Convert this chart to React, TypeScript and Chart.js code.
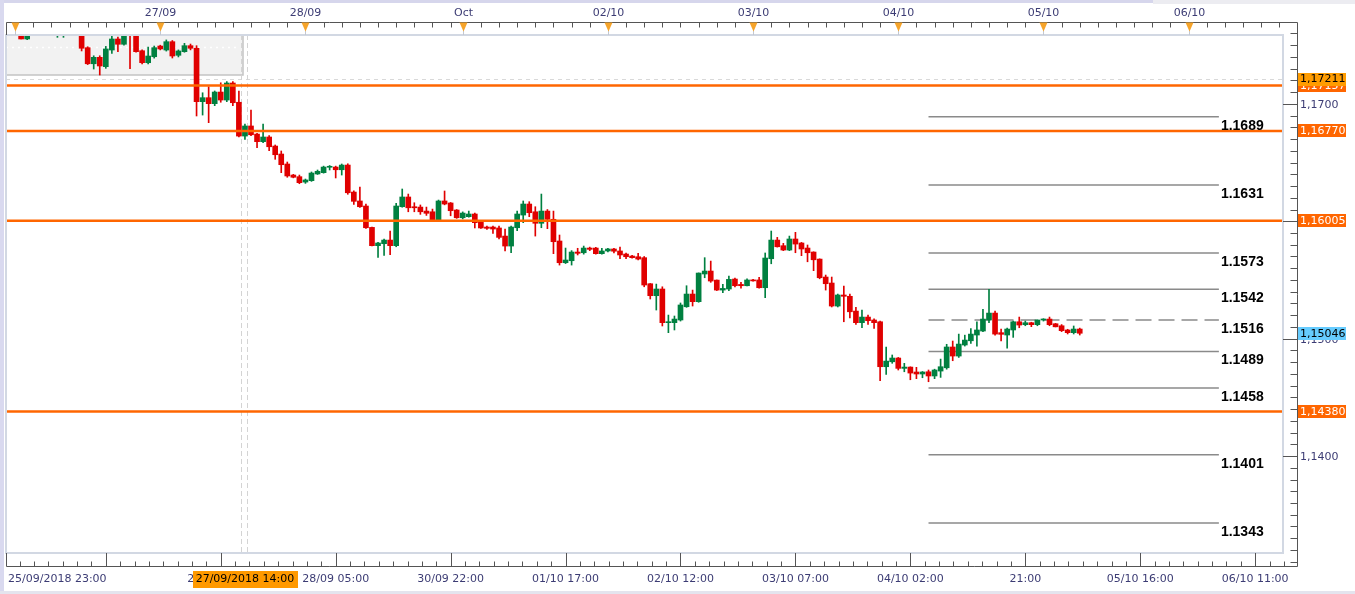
import React, { useEffect, useRef } from 'react';
import { Chart, registerables } from 'chart.js';

Chart.register(...registerables);

// ---- Candle data (EUR/USD, H1), index 0 = 25/09/2018 23:00 ----
const opens = [
  1.1768, 1.1770, 1.1766, 1.17553, 1.1766, 1.1768, 1.1765, 1.1763, 1.17583, 1.17585,
  1.1765, 1.1767, 1.1766, 1.17479, 1.17342, 1.17397, 1.17317, 1.17459, 1.17553, 1.17508,
  1.1762, 1.1760, 1.17453, 1.17351, 1.17402, 1.17493, 1.17459, 1.1753, 1.17414, 1.17445,
  1.17496, 1.17474, 1.17019, 1.17053, 1.17002, 1.17101, 1.17033, 1.17178, 1.17014, 1.16726,
  1.16812, 1.16743, 1.16678, 1.16718, 1.16641, 1.16573, 1.16488, 1.16394, 1.1638, 1.16334,
  1.16346, 1.16403, 1.16414, 1.1646, 1.16462, 1.16439, 1.16479, 1.16249, 1.16173, 1.1613,
  1.15948, 1.15792, 1.15809, 1.1584, 1.15792, 1.16124, 1.16207, 1.16124, 1.16121, 1.16087,
  1.16081, 1.16011, 1.16173, 1.16156, 1.16096, 1.1603, 1.16039, 1.16062, 1.15996, 1.15951,
  1.15951, 1.15943, 1.15874, 1.15789, 1.15945, 1.16053, 1.16147, 1.16081, 1.15983, 1.16087,
  1.16017, 1.15832, 1.15647, 1.15664, 1.15738, 1.15732, 1.15772, 1.15772, 1.15724, 1.15747,
  1.15764, 1.15747, 1.15721, 1.15704, 1.15698, 1.1569, 1.15468, 1.15366, 1.15423, 1.15136,
  1.15136, 1.15159, 1.15272, 1.1538, 1.15315, 1.15551, 1.15576, 1.15499, 1.15414, 1.15423,
  1.15508, 1.15462, 1.15451, 1.155, 1.155, 1.15434, 1.15681, 1.1584, 1.15792, 1.15755,
  1.15849, 1.15815, 1.15772, 1.15738, 1.15678, 1.15525, 1.15474, 1.15278, 1.15372, 1.15361,
  1.15235, 1.15136, 1.15184, 1.15159, 1.15144, 1.14761, 1.14803, 1.14835, 1.14747, 1.14758,
  1.14716, 1.14699, 1.14718, 1.14682, 1.14724, 1.14752, 1.14929, 1.14852, 1.14946, 1.14982,
  1.15031, 1.15065, 1.15159, 1.15218, 1.15051, 1.15031, 1.15074, 1.15144, 1.15119, 1.15136,
  1.15119, 1.15159, 1.15167, 1.15127, 1.1511, 1.15074, 1.15051, 1.15082,
];
const highs = [
  1.1775, 1.1776, 1.1770, 1.1770, 1.1772, 1.1774, 1.1770, 1.1768, 1.1768, 1.1769,
  1.1770, 1.1772, 1.1768, 1.17487, 1.1741, 1.1741, 1.1749, 1.17581, 1.1757, 1.1762,
  1.1768, 1.1763, 1.1746, 1.17485, 1.17493, 1.1750, 1.17545, 1.1754, 1.1746, 1.17516,
  1.1751, 1.17496, 1.17095, 1.17146, 1.1711, 1.1718, 1.1719, 1.1719, 1.1711, 1.16829,
  1.16948, 1.1675, 1.16829, 1.1673, 1.1665, 1.16599, 1.16505, 1.164, 1.16394, 1.1636,
  1.1642, 1.16437, 1.1647, 1.16475, 1.1647, 1.16488, 1.1649, 1.1626, 1.16292, 1.16147,
  1.1595, 1.1582, 1.15849, 1.15917, 1.16153, 1.16275, 1.16232, 1.16158, 1.16139, 1.16121,
  1.16104, 1.16181, 1.16258, 1.1616, 1.161, 1.1608, 1.16087, 1.1607, 1.16, 1.1596,
  1.1596, 1.1596, 1.15934, 1.1596, 1.16087, 1.16173, 1.16167, 1.16124, 1.16232, 1.161,
  1.16087, 1.15883, 1.15772, 1.1575, 1.1577, 1.15789, 1.1578, 1.15778, 1.1577, 1.1577,
  1.1577, 1.15781, 1.1573, 1.1571, 1.15727, 1.157, 1.1547, 1.15465, 1.15442, 1.15201,
  1.15193, 1.15304, 1.15451, 1.15414, 1.1556, 1.1569, 1.15661, 1.155, 1.15463, 1.15534,
  1.15517, 1.1548, 1.1551, 1.15505, 1.15523, 1.1573, 1.15917, 1.15863, 1.15812, 1.15874,
  1.15906, 1.1582, 1.15798, 1.1574, 1.1568, 1.15542, 1.15525, 1.1538, 1.15448, 1.1538,
  1.15267, 1.15244, 1.15201, 1.1517, 1.1515, 1.14929, 1.14861, 1.1484, 1.1479, 1.1476,
  1.14756, 1.1472, 1.14733, 1.1474, 1.14826, 1.14952, 1.1498, 1.15039, 1.1503, 1.15085,
  1.15144, 1.1525, 1.1542, 1.15235, 1.15082, 1.1509, 1.1515, 1.15184, 1.1515, 1.1514,
  1.1516, 1.1517, 1.15184, 1.1513, 1.1512, 1.1508, 1.15108, 1.1509,
];
const lows = [
  1.1762, 1.1763, 1.17553, 1.17547, 1.1762, 1.1764, 1.1761, 1.1760, 1.17567, 1.17567,
  1.1761, 1.1762, 1.17451, 1.17335, 1.17297, 1.17246, 1.17303, 1.17431, 1.17445, 1.1750,
  1.1730, 1.1744, 1.1734, 1.1734, 1.1739, 1.1746, 1.1745, 1.17391, 1.1740, 1.1744,
  1.1746, 1.16897, 1.16905, 1.1684, 1.16985, 1.17014, 1.17019, 1.16985, 1.16718, 1.16698,
  1.1673, 1.16627, 1.1667, 1.16601, 1.16528, 1.16414, 1.16375, 1.1637, 1.1632, 1.16323,
  1.1634, 1.16399, 1.1641, 1.16437, 1.16369, 1.16394, 1.1623, 1.16144, 1.16119, 1.1594,
  1.1579, 1.15693, 1.1571, 1.15715, 1.15783, 1.1612, 1.16081, 1.16081, 1.16059, 1.1605,
  1.16005, 1.16005, 1.1614, 1.16047, 1.16025, 1.1602, 1.16035, 1.15943, 1.1594, 1.1593,
  1.15897, 1.15849, 1.15747, 1.15732, 1.1592, 1.15988, 1.16039, 1.15874, 1.15945, 1.15937,
  1.15724, 1.15627, 1.1564, 1.15627, 1.15713, 1.1572, 1.1575, 1.1572, 1.1572, 1.1574,
  1.1573, 1.15681, 1.15681, 1.15685, 1.1567, 1.15442, 1.15338, 1.15244, 1.15108, 1.15051,
  1.15074, 1.1515, 1.15267, 1.15278, 1.1531, 1.15519, 1.1548, 1.1541, 1.15391, 1.15408,
  1.1544, 1.1543, 1.1545, 1.1549, 1.1543, 1.15349, 1.15638, 1.1578, 1.1575, 1.1575,
  1.15732, 1.15707, 1.15655, 1.15579, 1.1551, 1.15414, 1.1527, 1.1527, 1.15144, 1.15176,
  1.15122, 1.15093, 1.15122, 1.15087, 1.14642, 1.14696, 1.1479, 1.14733, 1.14718, 1.1465,
  1.14659, 1.14667, 1.14633, 1.14659, 1.1467, 1.1474, 1.14812, 1.1484, 1.14937, 1.1496,
  1.14937, 1.1506, 1.15136, 1.1503, 1.1498, 1.1492, 1.15011, 1.15093, 1.1511, 1.15102,
  1.1511, 1.1515, 1.1511, 1.1510, 1.1506, 1.1504, 1.1504, 1.15031,
];
const closes = [
  1.1770, 1.1766, 1.17553, 1.1766, 1.1768, 1.1765, 1.1763, 1.1764, 1.1764, 1.1765,
  1.1767, 1.1766, 1.17474, 1.17342, 1.17397, 1.17323, 1.17468, 1.17553, 1.17508, 1.17581,
  1.1760, 1.17445, 1.17351, 1.17408, 1.17479, 1.17468, 1.1753, 1.17408, 1.17451, 1.17496,
  1.17474, 1.17019, 1.17053, 1.17002, 1.17101, 1.17033, 1.17178, 1.1701, 1.16726, 1.16812,
  1.16737, 1.16678, 1.16718, 1.16635, 1.16567, 1.16482, 1.16386, 1.16375, 1.16329, 1.16352,
  1.16411, 1.16426, 1.16462, 1.16468, 1.16439, 1.16479, 1.16243, 1.1617, 1.16124, 1.15945,
  1.15792, 1.15815, 1.1584, 1.15792, 1.1613, 1.16207, 1.16115, 1.16115, 1.16081, 1.16068,
  1.16011, 1.16173, 1.16147, 1.1609, 1.1603, 1.1607, 1.16062, 1.15988, 1.15943, 1.1594,
  1.15934, 1.15863, 1.15789, 1.15951, 1.16062, 1.16147, 1.16073, 1.15983, 1.16087, 1.16017,
  1.15826, 1.15647, 1.1567, 1.15738, 1.15727, 1.15772, 1.15761, 1.15724, 1.15747, 1.15764,
  1.15745, 1.15713, 1.15698, 1.1569, 1.15678, 1.15457, 1.15366, 1.15423, 1.15136, 1.15144,
  1.15167, 1.15287, 1.1538, 1.15315, 1.15559, 1.15576, 1.15491, 1.15414, 1.15428, 1.15505,
  1.15451, 1.15451, 1.155, 1.15492, 1.15434, 1.15687, 1.1584, 1.15783, 1.15755, 1.15849,
  1.15806, 1.15764, 1.15732, 1.15672, 1.15519, 1.15468, 1.15278, 1.15372, 1.15361, 1.15229,
  1.15136, 1.15184, 1.15153, 1.15136, 1.14761, 1.14809, 1.14835, 1.14747, 1.14758, 1.14707,
  1.14699, 1.14716, 1.14682, 1.14733, 1.14761, 1.14929, 1.14852, 1.14954, 1.14988, 1.15039,
  1.15074, 1.15167, 1.15218, 1.15039, 1.15037, 1.15082, 1.15144, 1.15116, 1.15136, 1.15119,
  1.15159, 1.15167, 1.15119, 1.15101, 1.15068, 1.15051, 1.15082, 1.15046,
];

// ---- Horizontal levels ----
const supportLevels = [1.17157, 1.1677, 1.16005, 1.1438];
const supportLabels = ['1,17157', '1,16770', '1,16005', '1,14380'];
const refLevel = 1.17211;
const refLabel = '1,17211';
const lastPrice = 1.15046;
const lastPriceLabel = '1,15046';

const fibLevels = [1.1689, 1.1631, 1.1573, 1.1542, 1.1516, 1.1489, 1.1458, 1.1401, 1.1343];
const fibLabels = ['1.1689', '1.1631', '1.1573', '1.1542', '1.1516', '1.1489', '1.1458', '1.1401', '1.1343'];
const fibDashed = [false, false, false, false, true, false, false, false, false];
const fibSpan = [152, 200];

// ---- Axes ----
const yTickValues = [1.14, 1.15, 1.16, 1.17];
const yTickLabels = ['1,1400', '1,1500', '1,1600', '1,1700'];
const yRange = [1.13174, 1.17587];
const xRange = [-0.5, 210.6];

const topDayIdx = [1, 25, 49, 75, 99, 123, 147, 171, 195];
const topDayLabels = ['', '27/09', '28/09', 'Oct', '02/10', '03/10', '04/10', '05/10', '06/10'];

const bottomTickIdx = [-3, 16, 35, 54, 73, 92, 111, 130, 149, 168, 187, 206];
const bottomLabels = ['', '', '27/09 10:00', '28/09 05:00', '30/09 22:00', '01/10 17:00', '02/10 12:00', '03/10 07:00', '04/10 02:00', '21:00', '05/10 16:00', '06/10 11:00'];
const firstBottomLabel = '25/09/2018 23:00';
const crosshairIdx = 39;
const crosshairLabel = '27/09/2018 14:00';

const RED = '#e00000';
const GREEN = '#008040';
const ORANGE = '#ff6600';
const AXIS_TEXT = '#3c3c74';
const FONT = '"DejaVu Sans", Verdana, sans-serif';

const decorPlugin = {
  id: 'decor',
  beforeDraw(chart: any) {
    const { ctx, width, height } = chart;
    ctx.save();
    ctx.fillStyle = '#ffffff';
    ctx.fillRect(0, 0, width, height);
    ctx.fillStyle = '#d6d6ec';
    ctx.fillRect(0, 0, 1153, 3);
    ctx.fillStyle = '#ececf1';
    ctx.fillRect(1153, 0, width - 1153, 4);
    ctx.fillStyle = '#d9d9ef';
    ctx.fillRect(0, 0, 4, height);
    ctx.fillStyle = '#e4e4ee';
    ctx.fillRect(0, height - 3, width, 3);
    ctx.restore();
  },
  beforeDatasetsDraw(chart: any) {
    const { ctx, chartArea: ca } = chart;
    const xs = chart.scales.x;
    const ys = chart.scales.y;
    const X = (v: number) => xs.getPixelForValue(v);
    const Y = (v: number) => ys.getPixelForValue(v);
    ctx.save();
    // grey panel top-left
    const bx = Math.round(X(38.7));
    const by = Math.round(Y(1.17246));
    ctx.fillStyle = '#f2f2f2';
    ctx.fillRect(ca.left, ca.top, bx - ca.left, by - ca.top);
    ctx.strokeStyle = '#c4c4c4';
    ctx.lineWidth = 1.5;
    ctx.beginPath();
    ctx.moveTo(ca.left, by);
    ctx.lineTo(bx, by);
    ctx.lineTo(bx, ca.top);
    ctx.stroke();
    // white dotted line inside panel
    ctx.strokeStyle = '#ffffff';
    ctx.lineWidth = 1.5;
    ctx.setLineDash([2, 4]);
    ctx.beginPath();
    const wy = Math.round(Y(1.17487)) + 0.5;
    ctx.moveTo(ca.left, wy);
    ctx.lineTo(bx - 4, wy);
    ctx.stroke();
    // reference dashed level
    ctx.strokeStyle = '#d9d9d9';
    ctx.lineWidth = 1;
    ctx.setLineDash([4, 4]);
    const ry = Math.round(Y(refLevel)) + 0.5;
    ctx.beginPath();
    ctx.moveTo(ca.left, ry);
    ctx.lineTo(ca.right, ry);
    ctx.stroke();
    // crosshair verticals
    const cx = X(crosshairIdx);
    ctx.strokeStyle = '#d4d4d4';
    ctx.setLineDash([5, 3]);
    [Math.round(cx - 3.5) + 0.5, Math.round(cx + 2.5) + 0.5].forEach((vx) => {
      ctx.beginPath();
      ctx.moveTo(vx, ca.top);
      ctx.lineTo(vx, ca.bottom);
      ctx.stroke();
    });
    ctx.restore();
  },
  afterDraw(chart: any) {
    const { ctx, chartArea: ca } = chart;
    const xs = chart.scales.x;
    const ys = chart.scales.y;
    const X = (v: number) => xs.getPixelForValue(v);
    const Y = (v: number) => ys.getPixelForValue(v);
    const axR = ca.right + 14.5;
    const axT = ca.top - 12.5;
    const axB = ca.bottom + 13.5;
    const L = ca.left + 0.5;
    ctx.save();

    // plot frame
    ctx.strokeStyle = '#d2d8e3';
    ctx.lineWidth = 2;
    ctx.strokeRect(ca.left, ca.top, ca.right - ca.left, ca.bottom - ca.top);

    // axis lines
    ctx.strokeStyle = '#555555';
    ctx.lineWidth = 1;
    ctx.beginPath();
    ctx.moveTo(L, axT);
    ctx.lineTo(axR, axT);
    ctx.lineTo(axR, axB);
    ctx.lineTo(L, axB);
    ctx.moveTo(L, axT);
    ctx.lineTo(L, ca.top);
    ctx.moveTo(L, axB);
    ctx.lineTo(L, ca.bottom);
    ctx.stroke();

    // top axis minor ticks
    const topMinor: number[] = [];
    for (let d = 0; d < topDayIdx.length; d++) {
      const start = topDayIdx[d];
      const end = d + 1 < topDayIdx.length ? topDayIdx[d + 1] : xRange[1];
      for (let t = start + 3; t < end - 0.5; t += 3) topMinor.push(t);
    }
    ctx.beginPath();
    topMinor.forEach((t) => {
      const px = Math.round(X(t)) + 0.5;
      if (px < ca.left || px > axR) return;
      ctx.moveTo(px, axT);
      ctx.lineTo(px, axT + 5);
    });
    ctx.stroke();

    // top day markers + labels
    ctx.font = '11px ' + FONT;
    ctx.textAlign = 'center';
    ctx.textBaseline = 'middle';
    topDayIdx.forEach((t, k) => {
      const px = Math.round(X(t)) + 0.5;
      ctx.strokeStyle = '#c3c8d2';
      ctx.beginPath();
      ctx.moveTo(px, axT + 8);
      ctx.lineTo(px, ca.top);
      ctx.stroke();
      ctx.fillStyle = '#f6a42a';
      ctx.beginPath();
      ctx.moveTo(px - 4, axT);
      ctx.lineTo(px + 4, axT);
      ctx.lineTo(px, axT + 9);
      ctx.closePath();
      ctx.fill();
      if (topDayLabels[k]) {
        ctx.fillStyle = AXIS_TEXT;
        ctx.fillText(topDayLabels[k], px, 13);
      }
    });

    // right axis ticks
    ctx.strokeStyle = '#555555';
    ctx.beginPath();
    for (let v = 1.131; v <= 1.1765; v += 0.001) {
      const py = Math.round(Y(v)) + 0.5;
      if (py < axT || py > axB) continue;
      ctx.moveTo(axR - 7, py);
      ctx.lineTo(axR, py);
    }
    yTickValues.forEach((v) => {
      const py = Math.round(Y(v)) + 0.5;
      ctx.moveTo(ca.right, py);
      ctx.lineTo(axR, py);
    });
    ctx.stroke();

    // bottom axis ticks
    ctx.beginPath();
    const step = 19 / 8;
    for (let t = bottomTickIdx[0]; t <= xRange[1] + 1; t += step) {
      const px = Math.round(X(t)) + 0.5;
      if (px <= ca.left + 1 || px > axR) continue;
      ctx.moveTo(px, axB);
      ctx.lineTo(px, axB - 5);
    }
    bottomTickIdx.forEach((t) => {
      const px = Math.round(X(t)) + 0.5;
      if (px <= ca.left + 1 || px > axR) return;
      ctx.moveTo(px, axB);
      ctx.lineTo(px, ca.bottom);
    });
    ctx.stroke();

    // bottom labels
    ctx.fillStyle = AXIS_TEXT;
    ctx.font = '11px ' + FONT;
    ctx.textBaseline = 'middle';
    ctx.textAlign = 'left';
    ctx.fillText(firstBottomLabel, ca.left + 2, 579);
    ctx.textAlign = 'center';
    bottomTickIdx.forEach((t, k) => {
      if (!bottomLabels[k]) return;
      ctx.fillText(bottomLabels[k], X(t), 579);
    });

    // crosshair date badge
    const cw = ctx.measureText(crosshairLabel).width + 6;
    const cx = X(crosshairIdx);
    ctx.fillStyle = '#ff9900';
    ctx.fillRect(Math.round(cx - cw / 2), 571, Math.round(cw), 17);
    ctx.fillStyle = '#000000';
    ctx.fillText(crosshairLabel, cx, 579.5);

    // fibonacci labels
    ctx.font = 'bold 14px "Liberation Sans", Arial, sans-serif';
    ctx.textAlign = 'left';
    ctx.fillStyle = '#000000';
    fibLevels.forEach((v, k) => {
      ctx.fillText(fibLabels[k], X(fibSpan[1]) + 2, Y(v) + 9);
    });

    // price badges on right axis
    ctx.font = '11px ' + FONT;
    ctx.textAlign = 'left';
    const badge = (price: number, text: string, bg: string, fg: string) => {
      const py = Y(price);
      ctx.fillStyle = bg;
      ctx.fillRect(axR + 0.5, Math.round(py - 6.5), 48, 13);
      ctx.fillStyle = fg;
      ctx.fillText(text, axR + 2.5, py + 0.5);
    };
    badge(supportLevels[0], supportLabels[0], ORANGE, '#ffffff');
    badge(refLevel, refLabel, '#ff9c00', '#000000');
    for (let k = 1; k < supportLevels.length; k++) {
      badge(supportLevels[k], supportLabels[k], ORANGE, '#ffffff');
    }
    badge(lastPrice, lastPriceLabel, '#66ccff', '#000000');

    ctx.restore();
  },
};

export default function App() {
  const canvasRef = useRef<HTMLCanvasElement | null>(null);

  useEffect(() => {
    const canvas = canvasRef.current;
    if (!canvas) return;
    const idx = opens.map((_, i) => i);
    const colors = idx.map((i) => (closes[i] >= opens[i] ? GREEN : RED));

    const lineDatasets = supportLevels.map((level) => ({
      type: 'line' as const,
      data: [
        { x: xRange[0], y: level },
        { x: xRange[1], y: level },
      ],
      borderColor: ORANGE,
      borderWidth: 2.5,
      pointRadius: 0,
      order: 0,
    }));
    const fibDatasets = fibLevels.map((level, k) => ({
      type: 'line' as const,
      data: [
        { x: fibSpan[0], y: level },
        { x: fibSpan[1], y: level },
      ],
      borderColor: '#8a8a8a',
      borderWidth: 1.5,
      borderDash: fibDashed[k] ? [16, 7] : [],
      pointRadius: 0,
      order: 3,
    }));

    const chart = new Chart(canvas, {
      type: 'bar',
      data: {
        datasets: [
          ...lineDatasets,
          {
            type: 'bar',
            data: idx.map((i) => ({ x: i, y: [opens[i], closes[i]] })),
            backgroundColor: colors,
            barThickness: 5,
            grouped: false,
            minBarLength: 1,
            borderWidth: 0,
            order: 1,
          } as any,
          {
            type: 'bar',
            data: idx.map((i) => ({ x: i, y: [lows[i], highs[i]] })),
            backgroundColor: colors,
            barThickness: 1,
            grouped: false,
            borderWidth: 0,
            order: 2,
          } as any,
          ...fibDatasets,
        ],
      },
      options: {
        responsive: false,
        animation: false,
        devicePixelRatio: 1,
        layout: { padding: { left: 6, right: 0, top: 35, bottom: 41 } },
        plugins: { legend: { display: false }, tooltip: { enabled: false } },
        scales: {
          x: {
            type: 'linear',
            min: xRange[0],
            max: xRange[1],
            display: false,
            offset: false,
            grid: { offset: false },
          },
          y: {
            type: 'linear',
            position: 'right',
            min: yRange[0],
            max: yRange[1],
            afterBuildTicks: (s: any) => {
              s.ticks = yTickValues.map((v) => ({ value: v }));
            },
            afterFit: (s: any) => {
              s.width = 72;
            },
            grid: { display: false, drawTicks: false },
            border: { display: false },
            ticks: {
              autoSkip: false,
              padding: 17,
              labelOffset: 1.5,
              color: AXIS_TEXT,
              font: { family: 'DejaVu Sans', size: 11 },
              callback: (_v: any, i: number) => yTickLabels[i],
            },
          },
        },
      } as any,
      plugins: [decorPlugin],
    });
    return () => chart.destroy();
  }, []);

  return (
    <div style={{ position: 'fixed', left: 0, top: 0, width: 1355, height: 594, background: '#fff' }}>
      <canvas ref={canvasRef} width={1355} height={594} style={{ display: 'block', width: 1355, height: 594 }} />
    </div>
  );
}
